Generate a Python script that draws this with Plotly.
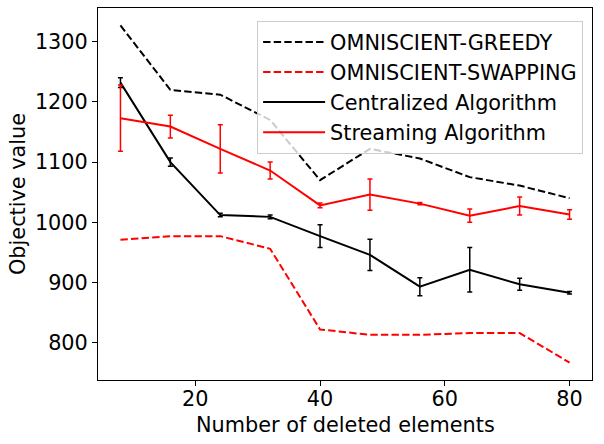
import plotly.graph_objects as go

deleted = [8, 16, 24, 32, 40, 48, 56, 64, 72, 80]

greedy = [1327, 1220, 1212, 1170, 1070, 1122, 1106, 1075, 1061, 1040]
swapping = [971, 977, 977, 956, 822, 813, 813, 816, 816, 767]

central = [1232, 1100, 1012, 1009, 977, 946, 893, 921, 897, 883]
central_err = [8, 7, 3, 3, 19, 26, 15, 37, 10, 2]

stream = [1173, 1159, 1122, 1086, 1028, 1046, 1031, 1011, 1027, 1013]
stream_err = [55, 19, 40, 14, 4, 26, 2, 11, 15, 8]

font = "DejaVu Sans"

fig = go.Figure()
fig.add_trace(go.Scatter(x=deleted, y=greedy, mode="lines", name="OMNISCIENT-GREEDY",
                         line=dict(color="black", width=2, dash="7.4px,3.2px")))
fig.add_trace(go.Scatter(x=deleted, y=swapping, mode="lines", name="OMNISCIENT-SWAPPING",
                         line=dict(color="red", width=2, dash="7.4px,3.2px")))
fig.add_trace(go.Scatter(x=deleted, y=central, mode="lines", name="Centralized Algorithm",
                         line=dict(color="black", width=2),
                         error_y=dict(type="data", array=central_err, color="black",
                                      thickness=1.5, width=2.5)))
fig.add_trace(go.Scatter(x=deleted, y=stream, mode="lines", name="Streaming Algorithm",
                         line=dict(color="red", width=2),
                         error_y=dict(type="data", array=stream_err, color="red",
                                      thickness=1.5, width=2.5)))

axis_common = dict(showline=True, linecolor="black", linewidth=1, mirror=True,
                   ticks="outside", ticklen=5, tickcolor="black", showgrid=False,
                   zeroline=False, automargin=False,
                   tickfont=dict(size=20.8, color="black"))

fig.update_layout(
    width=604, height=444,
    margin=dict(l=98, r=12, t=8, b=64),
    paper_bgcolor="white", plot_bgcolor="white",
    font=dict(family=font, size=20.8, color="black"),
    xaxis=dict(range=[4.4, 83.6], tickvals=[20, 40, 60, 80], ticklabelstandoff=-5,
               **axis_common),
    yaxis=dict(range=[738, 1356], tickvals=[800, 900, 1000, 1100, 1200, 1300], **axis_common),
    legend=dict(x=0.982, y=0.965, xanchor="right", yanchor="top", itemwidth=62,
                bgcolor="rgba(255,255,255,0.8)", bordercolor="#cccccc", borderwidth=1,
                font=dict(size=20.8)),
    showlegend=True,
)

# axis titles placed as annotations so the plot area keeps its margins
fig.add_annotation(text="Number of deleted elements", xref="paper", yref="paper",
                   x=0.5, y=0, yshift=-45, xanchor="center", yanchor="middle",
                   showarrow=False, font=dict(size=20.8))
fig.add_annotation(text="Objective value", xref="paper", yref="paper",
                   x=0, y=0.5, xshift=-80, xanchor="center", yanchor="middle",
                   textangle=-90, showarrow=False, font=dict(size=20.8))

# drop the default page margin so the figure sits at the window's corner
fig.write_html("out.html", config={"displayModeBar": False},
               post_script="document.body.style.margin='0';")
